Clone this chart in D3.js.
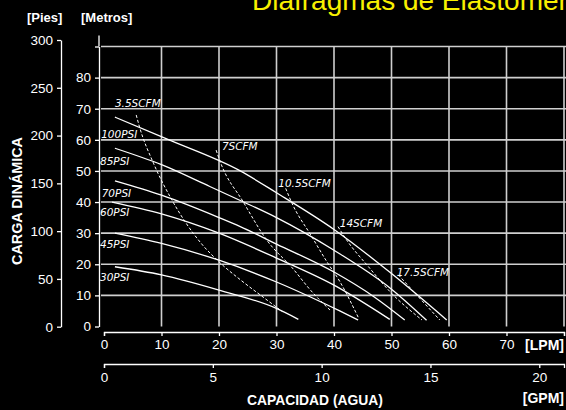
<!DOCTYPE html>
<html lang="es">
<head>
<meta charset="UTF-8">
<title>Curvas de rendimiento</title>
<script src="https://d3js.org/d3.v7.min.js"></script>
<style>
    html, body {
        margin: 0;
        padding: 0;
        background: #000;
    }
    svg {
        display: block;
        font-family: "Liberation Sans", Arial, sans-serif;
    }
    .axis path, .axis line {
        stroke: #fff;
        stroke-width: 1.3px;
    }
    .axis text {
        fill: #fff;
        font-size: 13.5px;
        font-family: "Liberation Sans", Arial, sans-serif;
    }
    .curve-label {
        fill: #fff;
        font-family: "DejaVu Sans", sans-serif;
        font-style: italic;
        font-size: 10.5px;
    }
</style>
</head>
<body>
<svg id="chart" width="566" height="410"></svg>
<script>
    // capacidad [LPM], carga [metros]
    const psi100 = [[1.9, 67.3], [11, 60.2], [23.7, 50], [30, 43], [40, 31.2], [50, 17], [59.6, 2.1]];
    const psi85 = [[1.9, 57.3], [10, 52], [18.4, 45], [23.7, 40.5], [30, 35], [40, 24.5], [50, 12], [56.1, 2]];
    const psi70 = [[1.9, 46.8], [10, 42.2], [20, 35], [23.7, 32.1], [30, 26.5], [40, 17.5], [47, 9.5], [52.3, 2.1]];
    const psi60 = [[1.4, 40], [10, 36.2], [20, 30], [30, 22], [40, 13.3], [49.7, 2.3]];
    const psi45 = [[1.9, 30], [10, 26.7], [20, 21.3], [30, 14.3], [36, 9.4], [41, 5], [44.2, 2.1]];
    const psi30 = [[1.9, 19.2], [10, 16.6], [20, 11.7], [30, 5.8], [33.8, 2.3]];

    const scfm3_5 = [[5.6, 68], [6.2, 64], [8.6, 52.5], [11.8, 40.7], [14.1, 33.7], [17, 26.5], [20, 20.8], [24, 14.6], [28, 9], [31, 4.8]];
    const scfm7 = [[19.5, 56.7], [20.2, 53], [24.2, 40.1], [28.3, 27.8], [32.9, 18.5], [36, 11.5], [39.3, 5.3]];
    const scfm10_5 = [[31.6, 44.4], [32.6, 40], [36.1, 29], [38.7, 21], [41, 14.5], [44.2, 3]];
    const scfm14 = [[40.7, 32.1], [42.2, 27.8], [46, 19.2], [50, 10.7], [55.3, 2.1]];
    const scfm17_5 = [[51.2, 16.6], [54.4, 10.1], [58.4, 2.1]];

    const pressureNames = ["100PSI", "85PSI", "70PSI", "60PSI", "45PSI", "30PSI"];
    const pressureCurves = [psi100, psi85, psi70, psi60, psi45, psi30];
    const pressureLabelAt = [[-0.5, 60.6], [-0.7, 51.9], [-0.4, 41.6], [-0.7, 35.5], [-0.7, 25.2], [-0.7, 14.6]];

    const airNames = ["3.5SCFM", "7SCFM", "10.5SCFM", "14SCFM", "17.5SCFM"];
    const airCurves = [scfm3_5, scfm7, scfm10_5, scfm14, scfm17_5];
    const airLabelAt = [[1.9, 70.6], [20.5, 56.7], [30.3, 44.8], [41, 32], [50.9, 16.2]];

    const lpmTicks = [0, 10, 20, 30, 40, 50, 60, 70, 80];
    const gpmTicks = [0, 5, 10, 15, 20];
    const metroTicks = [0, 10, 20, 30, 40, 50, 60, 70, 80, 90];
    const piesTicks = [0, 50, 100, 150, 200, 250, 300];
    const LPM_PER_GPM = 3.785;

    const svg = d3.select("#chart");

    const x = d3.scaleLinear().domain([0, 80]).range([104, 564]);
    const xGpm = d3.scaleLinear().domain([0, 80 / LPM_PER_GPM]).range([104, 564]);
    const y = d3.scaleLinear().domain([0, 90]).range([326.5, 46.5]);
    const yPies = d3.scaleLinear().domain([0, 300]).range([326.7, 40]);

    // titulo (cortado arriba, como en el original)
    svg.append("text")
        .attr("x", 252)
        .attr("y", 10)
        .attr("fill", "#f8f000")
        .style("font-size", "28px")
        .text("Diafragmas de Elastómero");

    // rejilla
    const grid = svg.append("g")
        .attr("stroke", "#cfcfcf")
        .attr("stroke-width", 1.6);

    grid.selectAll("line.h")
        .data(metroTicks.filter(d => d > 0))
        .join("line")
        .attr("class", "h")
        .attr("x1", 101)
        .attr("x2", 566)
        .attr("y1", d => y(d))
        .attr("y2", d => y(d));

    grid.selectAll("line.v")
        .data(lpmTicks.filter(d => d > 0))
        .join("line")
        .attr("class", "v")
        .attr("x1", d => x(d))
        .attr("x2", d => x(d))
        .attr("y1", y(90))
        .attr("y2", y(0));

    // ejes
    svg.append("g")
        .attr("class", "axis")
        .attr("transform", "translate(61,0)")
        .call(d3.axisLeft(yPies).tickValues(piesTicks).tickSize(4).tickSizeOuter(0).tickPadding(4));

    const metros = svg.append("g")
        .attr("class", "axis")
        .attr("transform", "translate(99,0)")
        .call(d3.axisLeft(y).tickValues(metroTicks).tickSize(4).tickSizeOuter(0).tickPadding(4)
            .tickFormat(d => d < 90 ? d : ""));

    // el eje de metros sube un poco por encima de 90
    metros.append("line")
        .attr("y1", y(90))
        .attr("y2", y(93.5));

    svg.append("g")
        .attr("class", "axis")
        .attr("transform", "translate(0,332)")
        .call(d3.axisBottom(x).tickValues(lpmTicks).tickSize(4).tickSizeOuter(4).tickPadding(3)
            .tickFormat(d => d < 80 ? d : ""));

    svg.append("g")
        .attr("class", "axis")
        .attr("transform", "translate(0,364)")
        .call(d3.axisBottom(xGpm).tickValues(gpmTicks).tickSize(4).tickSizeOuter(4).tickPadding(4));

    svg.selectAll(".axis .domain").attr("fill", "none");

    // curvas
    const line = d3.line()
        .x(d => x(d[0]))
        .y(d => y(d[1]))
        .curve(d3.curveMonotoneX);

    svg.append("g")
        .selectAll("path")
        .data(pressureCurves)
        .join("path")
        .attr("d", line)
        .attr("fill", "none")
        .attr("stroke", "#fff")
        .attr("stroke-width", 1.3);

    svg.append("g")
        .selectAll("path")
        .data(airCurves)
        .join("path")
        .attr("d", line)
        .attr("fill", "none")
        .attr("stroke", "#fff")
        .attr("stroke-width", 1)
        .attr("stroke-dasharray", "3,2");

    svg.append("g")
        .selectAll("text")
        .data(pressureNames)
        .join("text")
        .attr("class", "curve-label")
        .attr("x", (d, i) => x(pressureLabelAt[i][0]))
        .attr("y", (d, i) => y(pressureLabelAt[i][1]))
        .text(d => d);

    svg.append("g")
        .selectAll("text")
        .data(airNames)
        .join("text")
        .attr("class", "curve-label")
        .attr("x", (d, i) => x(airLabelAt[i][0]))
        .attr("y", (d, i) => y(airLabelAt[i][1]))
        .text(d => d);

    // rotulos
    const bold = (sel) => sel.attr("fill", "#fff").style("font-weight", "bold");

    svg.append("text").call(bold)
        .attr("x", 27).attr("y", 22)
        .style("font-size", "13px")
        .text("[Pies]");

    svg.append("text").call(bold)
        .attr("x", 81).attr("y", 22)
        .style("font-size", "13px")
        .text("[Metros]");

    svg.append("text").call(bold)
        .attr("transform", "translate(22,201) rotate(-90)")
        .attr("text-anchor", "middle")
        .style("font-size", "14px")
        .attr("textLength", 128)
        .attr("lengthAdjust", "spacingAndGlyphs")
        .text("CARGA DINÁMICA");

    svg.append("text").call(bold)
        .attr("x", 315).attr("y", 405)
        .attr("text-anchor", "middle")
        .style("font-size", "14px")
        .attr("textLength", 136)
        .attr("lengthAdjust", "spacingAndGlyphs")
        .text("CAPACIDAD (AGUA)");

    svg.append("text").call(bold)
        .attr("x", 564).attr("y", 350)
        .attr("text-anchor", "end")
        .style("font-size", "14px")
        .text("[LPM]");

    svg.append("text").call(bold)
        .attr("x", 564).attr("y", 403)
        .attr("text-anchor", "end")
        .style("font-size", "14px")
        .text("[GPM]");
</script>
</body>
</html>
